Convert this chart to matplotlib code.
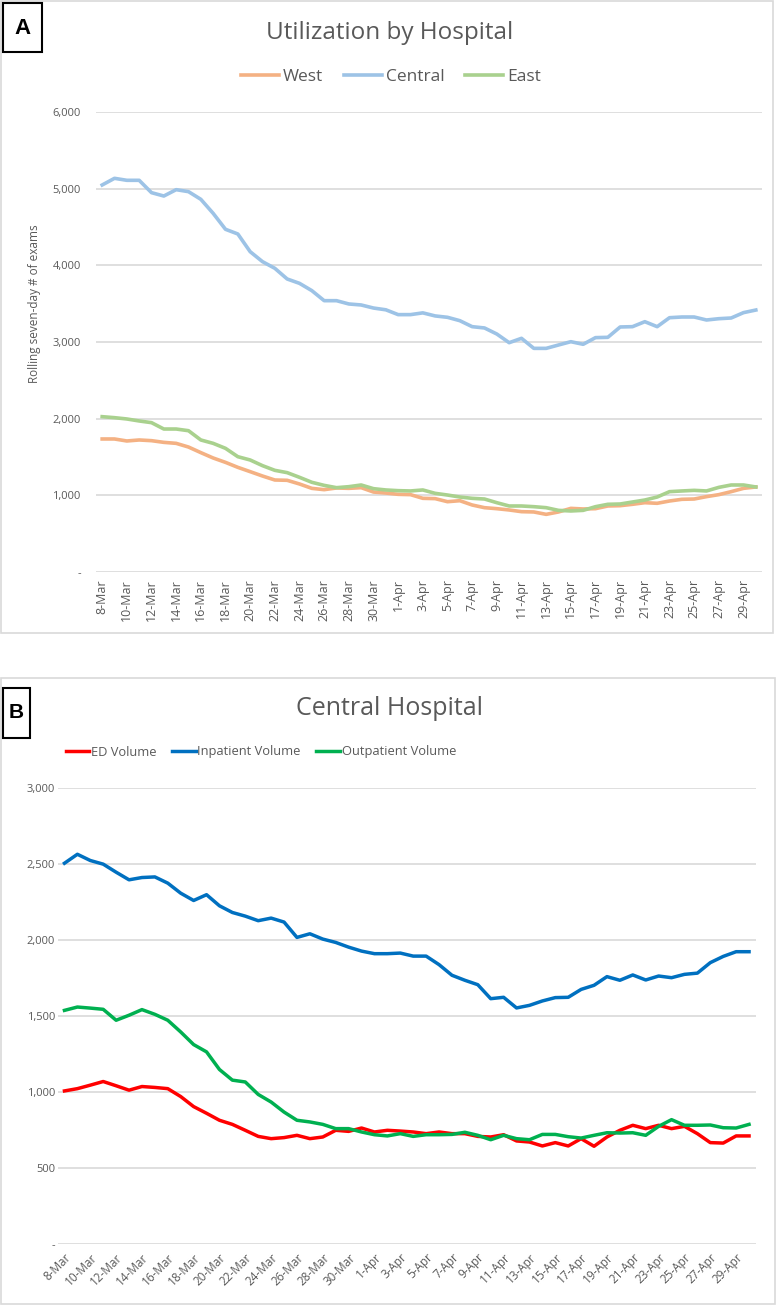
import matplotlib
matplotlib.use('Agg')
import matplotlib.pyplot as plt
from matplotlib.patches import Rectangle
import pandas as pd

plt.rcParams['font.family'] = ['Open Sans', 'DejaVu Sans']

# categories: 8-Mar .. 30-Apr
days = pd.date_range('2020-03-08', '2020-04-30')
labels = [str(d.day) + '-' + d.strftime('%b') for d in days]

# Panel A - rolling seven-day exams by hospital
west = [1735, 1735, 1709, 1722, 1713, 1691, 1678, 1630, 1557, 1487,
        1430, 1365, 1309, 1252, 1200, 1196, 1148, 1091, 1074, 1096,
        1091, 1100, 1043, 1030, 1013, 1009, 961, 957, 917, 930,
        874, 839, 826, 809, 787, 783, 752, 783, 830, 822,
        826, 861, 865, 883, 904, 896, 926, 948, 952, 983,
        1009, 1048, 1091, 1109]
central = [5048, 5135, 5109, 5109, 4948, 4904, 4987, 4961, 4861, 4678,
           4470, 4409, 4178, 4048, 3961, 3822, 3765, 3670, 3539, 3539,
           3496, 3483, 3443, 3420, 3357, 3357, 3380, 3340, 3322, 3278,
           3200, 3183, 3104, 2991, 3048, 2917, 2917, 2961, 3004, 2970,
           3057, 3061, 3196, 3200, 3265, 3200, 3317, 3326, 3326, 3287,
           3304, 3313, 3383, 3417]
east = [2026, 2013, 1996, 1970, 1948, 1865, 1865, 1843, 1722, 1678,
        1613, 1504, 1461, 1387, 1326, 1296, 1235, 1170, 1130, 1100,
        1113, 1135, 1087, 1070, 1061, 1057, 1070, 1026, 1004, 978,
        961, 952, 904, 861, 861, 852, 839, 804, 796, 804,
        852, 883, 887, 913, 939, 978, 1048, 1057, 1065, 1057,
        1104, 1135, 1135, 1109]

# Panel B - Central hospital by patient type
ed = [1007, 1022, 1045, 1069, 1041, 1012, 1036, 1030, 1022, 970,
      904, 860, 814, 787, 748, 708, 693, 700, 715, 693,
      704, 748, 741, 763, 737, 748, 743, 737, 726, 737,
      726, 726, 708, 704, 719, 678, 671, 645, 667, 645,
      693, 643, 704, 748, 781, 759, 781, 759, 774, 726,
      667, 664, 711, 711]
inpatient = [2505, 2564, 2523, 2499, 2446, 2396, 2411, 2415, 2374, 2308,
             2260, 2298, 2225, 2181, 2157, 2127, 2144, 2118, 2017, 2041,
             2006, 1984, 1953, 1927, 1910, 1910, 1914, 1894, 1894, 1838,
             1768, 1735, 1706, 1614, 1623, 1553, 1570, 1599, 1621, 1623,
             1675, 1702, 1759, 1735, 1770, 1737, 1763, 1752, 1774, 1782,
             1851, 1892, 1923, 1923]
outpatient = [1537, 1559, 1552, 1544, 1472, 1505, 1542, 1511, 1472, 1395,
              1312, 1264, 1148, 1078, 1066, 984, 934, 868, 814, 803,
              787, 759, 759, 737, 719, 711, 726, 708, 719, 719,
              721, 735, 715, 686, 715, 693, 686, 721, 721, 706,
              697, 715, 732, 730, 732, 715, 774, 818, 781, 781,
              783, 765, 763, 787]

W, H = 780, 1306
fig = plt.figure(figsize=(W / 100, H / 100), dpi=100)
txt = '#595959'
grid_c = '#D9D9D9'


def px(x0, y0, x1, y1):
    # pixel box (top-left origin) -> figure fraction [l, b, w, h]
    return [x0 / W, 1 - y1 / H, (x1 - x0) / W, (y1 - y0) / H]


def frame(x0, y0, x1, y1, color, lw):
    fig.patches.append(Rectangle((x0 / W, 1 - y1 / H), (x1 - x0) / W, (y1 - y0) / H,
                                 transform=fig.transFigure, fill=False,
                                 edgecolor=color, linewidth=lw))


def style_axes(ax, ymax, step, rot, ypad):
    x = list(range(len(labels)))
    ax.set_xlim(-0.5, len(labels) - 0.5)
    ax.set_ylim(0, ymax)
    ticks = list(range(0, ymax + 1, step))
    ax.set_yticks(ticks)
    ax.set_yticklabels(['-'] + ['{:,}'.format(t) for t in ticks[1:]], color=txt, fontsize=8)
    ax.set_xticks(x[::2])
    if rot == 90:
        ax.set_xticklabels(labels[::2], rotation=90, color=txt, fontsize=9)
    else:
        ax.set_xticklabels(labels[::2], rotation=45, ha='right', rotation_mode='anchor',
                           color=txt, fontsize=8.5)
    ax.tick_params(axis='x', length=0, pad=5)
    ax.tick_params(axis='y', length=0, pad=ypad)
    for s in ax.spines.values():
        s.set_visible(False)
    ax.grid(True, axis='y', color=grid_c, linewidth=1.2)
    ax.set_axisbelow(True)
    return x


# ---- Panel A ----
frame(1, 1, 773, 633, grid_c, 1.2)
axA = fig.add_axes(px(96, 112, 762, 572))
x = style_axes(axA, 6000, 1000, 90, 11)
axA.plot(x, west, color='#F4B183', lw=2.6, label='West')
axA.plot(x, central, color='#9DC3E6', lw=2.6, label='Central')
axA.plot(x, east, color='#A9D18E', lw=2.6, label='East')
fig.text(390 / W, 1 - 33 / H, 'Utilization by Hospital', ha='center', va='center',
         fontsize=17.5, color=txt)
fig.text(35 / W, 1 - 304 / H, 'Rolling seven-day # of exams', rotation=90,
         ha='center', va='center', fontsize=8.5, color=txt)
axA.legend(loc='center', bbox_to_anchor=(391 / W, 1 - 77 / H), bbox_transform=fig.transFigure,
           ncol=3, frameon=False, fontsize=12.5, labelcolor=txt, handlelength=2.2,
           handletextpad=0.2, columnspacing=1.2)
frame(3, 3, 42, 52, 'black', 1.5)
fig.text(22.5 / W, 1 - 28 / H, 'A', ha='center', va='center', fontsize=16,
         fontweight='bold', family='Liberation Sans')

# ---- Panel B ----
frame(1, 678, 775, 1304, grid_c, 1.2)
axB = fig.add_axes(px(58, 788, 755.5, 1244))
x = style_axes(axB, 3000, 500, 45, 2)
axB.plot(x, ed, color='#FF0000', lw=2.5, label='ED Volume')
axB.plot(x, inpatient, color='#0070C0', lw=2.5, label='Inpatient Volume')
axB.plot(x, outpatient, color='#00B050', lw=2.5, label='Outpatient Volume')
fig.text(389 / W, 1 - 708 / H, 'Central Hospital', ha='center', va='center',
         fontsize=18, color=txt)
axB.legend(loc='center', bbox_to_anchor=(261 / W, 1 - 752 / H),
           bbox_transform=fig.transFigure,
           ncol=3, frameon=False, fontsize=9.3, labelcolor=txt, handlelength=1.8,
           handletextpad=0.15, columnspacing=1.2)
frame(3, 688, 30, 738, 'black', 1.5)
fig.text(16.5 / W, 1 - 713 / H, 'B', ha='center', va='center', fontsize=15,
         fontweight='bold', family='Liberation Sans')

fig.savefig('out.png', dpi=100)
